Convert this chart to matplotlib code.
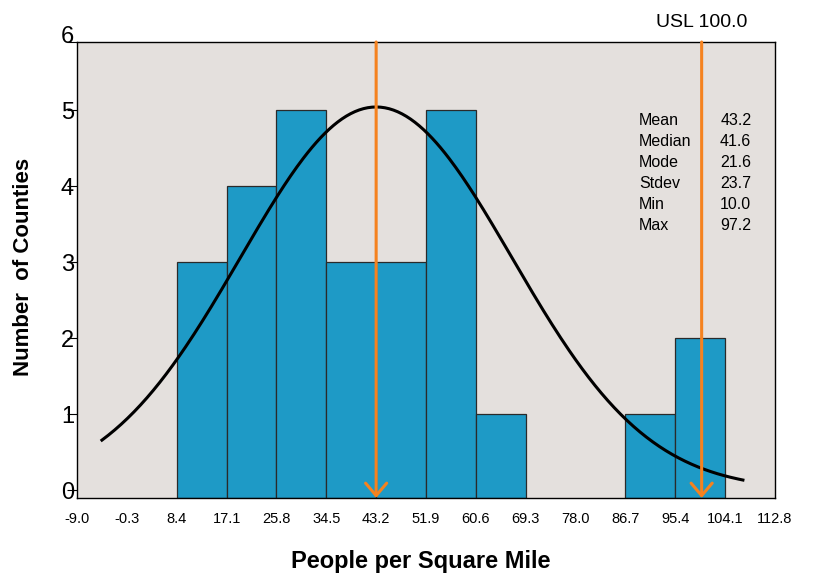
import numpy as np
import matplotlib.pyplot as plt

plt.rcParams['font.family'] = ['Liberation Sans', 'DejaVu Sans']

# bin edges shown on the x axis (step 8.7)
edges = [-9.0, -0.3, 8.4, 17.1, 25.8, 34.5, 43.2, 51.9, 60.6, 69.3, 78.0, 86.7, 95.4, 104.1, 112.8]
# counties per bin
counts = [0, 0, 3, 4, 5, 3, 3, 5, 1, 0, 0, 1, 2, 0]

stat_names = ["Mean", "Median", "Mode", "Stdev", "Min", "Max"]
stat_values = [43.2, 41.6, 21.6, 23.7, 10.0, 97.2]
mean = 43.2
stdev = 23.7
usl = 100.0

# fitted normal curve as drawn in the chart
curve_peak = 5.04
curve_start, curve_end = -4.65, 107.2

bar_color = "#1E9AC6"
orange = "#F5821F"
bg = "#E4E0DD"

fig = plt.figure(figsize=(8.14, 5.8), dpi=100)
ax = fig.add_axes([77 / 814, 82 / 580, 698 / 814, 456 / 580])
ax.set_facecolor(bg)

ymin, ymax = -0.105, 5.895
bin_w = edges[1] - edges[0]

for left, c in zip(edges[:-1], counts):
    if c > 0:
        ax.bar(left, c - ymin, bottom=ymin, width=bin_w, align='edge',
               color=bar_color, edgecolor='#2a2a2a', linewidth=0.9, zorder=2)

xs = np.linspace(curve_start, curve_end, 300)
ys = curve_peak * np.exp(-0.5 * ((xs - mean) / stdev) ** 2)
ax.plot(xs, ys, color='black', lw=2.2, zorder=3)

for xv in (mean, usl):
    ax.annotate('', xy=(xv, ymin), xytext=(xv, ymax),
                arrowprops=dict(arrowstyle='->,head_length=0.45,head_width=0.38',
                                color=orange, lw=2.2, mutation_scale=20,
                                shrinkA=0, shrinkB=0), zorder=4)

ax.annotate("USL 100.0", xy=(usl, 1.033), xycoords=('data', 'axes fraction'),
            ha='center', va='baseline', fontsize=14, annotation_clip=False)

# stats table
for i, (nm, v) in enumerate(zip(stat_names, stat_values)):
    yb = (498 - (125 + 21 * i)) / 456
    ax.text(0.805, yb, nm, transform=ax.transAxes, fontsize=11.5, va='baseline', ha='left', zorder=5)
    ax.text(0.966, yb, f"{v:.1f}", transform=ax.transAxes, fontsize=11.5, va='baseline', ha='right', zorder=5)

ax.set_xlim(edges[0], edges[-1])
ax.set_ylim(ymin, ymax)
ax.set_xticks(edges)
ax.set_xticklabels([f"{e:.1f}" for e in edges], fontsize=10.5)
ax.tick_params(axis='x', length=0, pad=10)

ax.set_yticks(list(range(6)) + [ymax])
ax.set_yticklabels([str(i) for i in range(6)] + [''], fontsize=17)
ax.tick_params(axis='y', length=7.2, width=0.8, pad=-5)
ax.annotate('6', xy=(0, 6), xycoords=('axes fraction', 'data'),
            xytext=(-2.2, 0), textcoords='offset points',
            ha='right', va='center_baseline', fontsize=17, annotation_clip=False)

for s in ax.spines.values():
    s.set_color('black')
    s.set_linewidth(1.0)

ax.set_ylabel("Number  of Counties", fontsize=16, fontweight='bold')
ax.yaxis.set_label_coords(-0.062, 0.507)
ax.set_xlabel("People per Square Mile", fontsize=17, fontweight='bold')
ax.xaxis.set_label_coords(0.493, -0.115)

fig.savefig("out.png", dpi=100)
